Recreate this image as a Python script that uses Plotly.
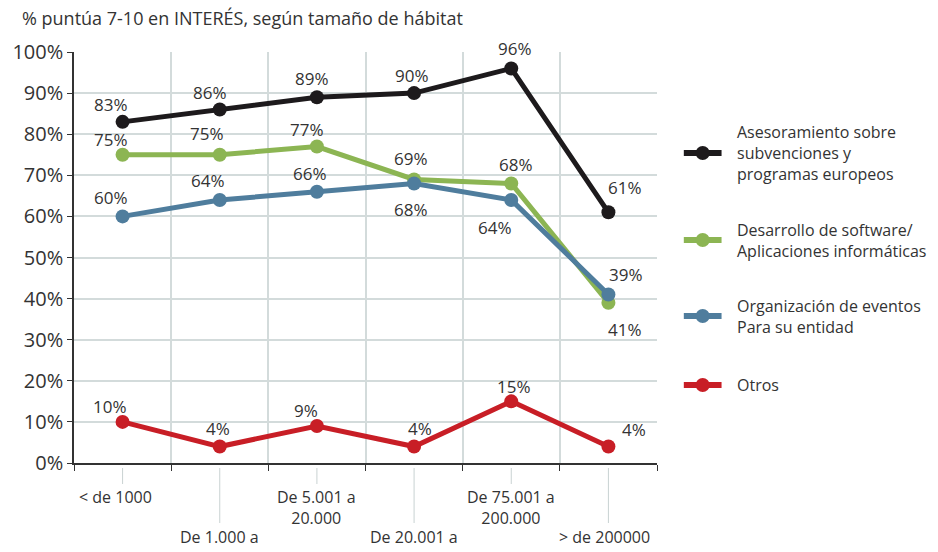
import plotly.graph_objects as go

# Tamaño de hábitat (categorías del eje X)
categorias = ["< de 1000", "De 1.000 a<br>5.000", "De 5.001 a<br>20.000",
              "De 20.001 a<br>75.000", "De 75.001 a<br>200.000", "> de 200000"]

# % que puntúa 7-10 en interés, por serie
asesoramiento = [83, 86, 89, 90, 96, 61]
software = [75, 75, 77, 69, 68, 39]
eventos = [60, 64, 66, 68, 64, 41]
otros = [10, 4, 9, 4, 15, 4]

nombres = ["Asesoramiento sobre<br>subvenciones y<br>programas europeos",
           "Desarrollo de software/<br>Aplicaciones informáticas",
           "Organización de eventos<br>Para su entidad",
           "Otros"]
colores = ["#1d1a1c", "#8cb553", "#4f7d9d", "#c81e26"]
series = [asesoramiento, software, eventos, otros]

# desplazamiento (px) de cada etiqueta de valor respecto a su punto
desplaz = [
    [(-12, 17), (-10, 17), (-5, 19), (-2, 18), (4, 20), (17, 25)],
    [(-12, 15), (-13, 21), (-10, 17), (-3, 21), (5, 19), (18, 28)],
    [(-12, 19), (-12, 19), (-7, 18), (-3, -26), (-16, -28), (17, -35)],
    [(-13, 15), (-2, 18), (-11, 16), (6, 18), (3, 15), (26, 17)],
]

FONT = "'Open Sans', Arial, sans-serif"
TXT = "#333333"
x = list(range(len(categorias)))

fig = go.Figure()
annotations = []
shapes = []

for vals, color in zip(series, colores):
    fig.add_trace(go.Scatter(
        x=x, y=vals, mode="lines+markers",
        line=dict(color=color, width=5),
        marker=dict(color=color, size=14),
        showlegend=False, hoverinfo="skip"))

for vals, offs in zip(series, desplaz):
    for xi, v, (dx, dy) in zip(x, vals, offs):
        annotations.append(dict(
            x=xi, y=v, xref="x", yref="y", text=f"{v}%", showarrow=False,
            xshift=dx, yshift=dy, font=dict(family=FONT, size=17, color=TXT)))

# etiquetas del eje X escalonadas, con sus guías
for i, cat in enumerate(categorias):
    baja = i % 2 == 1 or i == len(categorias) - 1
    ypix = 537 if baja else 497
    annotations.append(dict(
        x=i, y=1 - (ypix - 52 - 13) / 411, xref="x", yref="paper",
        text=cat, showarrow=False, yanchor="top", align="center",
        xshift=-7 if i == 0 else (-4 if i == 5 else 0),
        font=dict(family=FONT, size=16, color=TXT)))
    y_fin = 523 if baja else 484
    shapes.append(dict(
        type="line", xref="x", yref="paper", x0=i, x1=i,
        y0=(463 - 468) / 411, y1=(463 - y_fin) / 411,
        line=dict(color="#c9d2d2", width=1)))

# leyenda
leyenda_y = [153, 240, 316, 385]
for nombre, color, yp in zip(nombres, colores, leyenda_y):
    yy = 1 - (yp - 52) / 411
    xp0 = (684 - 70) / 587
    xp1 = (722 - 70) / 587
    shapes.append(dict(type="line", xref="paper", yref="paper",
                       x0=xp0, x1=xp1, y0=yy, y1=yy,
                       line=dict(color=color, width=6)))
    shapes.append(dict(type="circle", xref="paper", yref="paper",
                       xsizemode="pixel", ysizemode="pixel",
                       xanchor=(703 - 70) / 587, yanchor=yy,
                       x0=-7, x1=7, y0=-7, y1=7,
                       fillcolor=color, line=dict(width=0)))
    annotations.append(dict(
        x=(736 - 70) / 587, y=yy, xref="paper", yref="paper",
        text=nombre, showarrow=False, xanchor="left", yanchor="middle",
        align="left", font=dict(family=FONT, size=16, color=TXT)))

fig.update_layout(
    width=938, height=552,
    margin=dict(l=70, r=281, t=52, b=89),
    paper_bgcolor="white", plot_bgcolor="white",
    title=dict(text="% puntúa 7-10 en INTERÉS, según tamaño de hábitat",
               x=22 / 938, y=1 - 19 / 552, xref="container", yref="container",
               xanchor="left", yanchor="middle",
               font=dict(family=FONT, size=18, color=TXT)),
    xaxis=dict(range=[-0.5, 5.5], tickvals=[i - 0.5 for i in range(7)],
               showticklabels=False, ticks="outside", ticklen=6,
               tickcolor="#333333", showgrid=True, gridcolor="#d3dbdb",
               gridwidth=1.5, showline=True, linecolor="#333333",
               linewidth=1.5, zeroline=False, fixedrange=True),
    yaxis=dict(range=[0, 100], tickvals=list(range(0, 101, 10)),
               ticktext=[f"{v}%" for v in range(0, 101, 10)],
               ticks="outside", ticklen=5, tickcolor="#333333",
               showgrid=True, gridcolor="#d3dbdb", gridwidth=1.5,
               showline=True, linecolor="#333333", linewidth=1.5,
               zeroline=False, tickfont=dict(family=FONT, size=20, color=TXT),
               fixedrange=True),
    annotations=annotations,
    shapes=shapes,
)

fig.write_html("out.html")
